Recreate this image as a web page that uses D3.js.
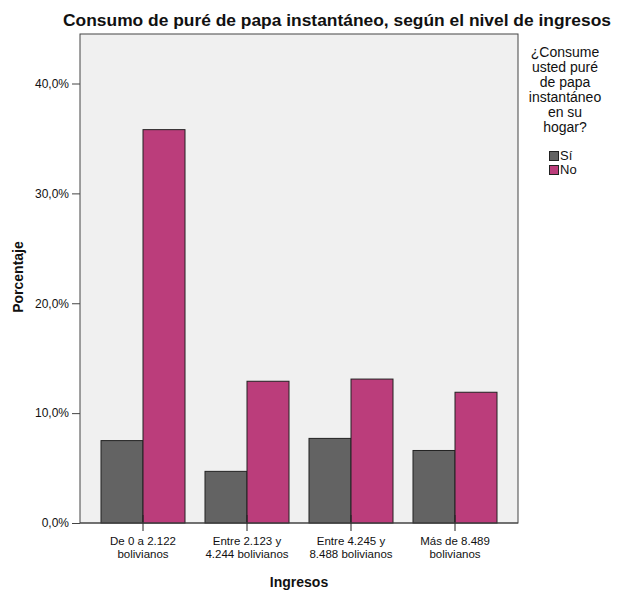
<!DOCTYPE html>
<html><head><meta charset="utf-8">
<script src="https://cdn.jsdelivr.net/npm/d3@7"></script>
<style>body{margin:0;background:#fff;} text{font-family:"Liberation Sans",Arial,sans-serif;}</style>
</head><body>
<svg id="c" width="629" height="596"></svg>
<script>
const categories = [["De 0 a 2.122","bolivianos"],["Entre 2.123 y","4.244 bolivianos"],["Entre 4.245 y","8.488 bolivianos"],["Más de 8.489","bolivianos"]];
const seriesNames = ["Sí","No"];
const siValues = [7.5, 4.7, 7.7, 6.6];
const noValues = [35.8, 12.9, 13.1, 11.9];
const yTicks = [0,10,20,30,40];
const legendTitle = ["¿Consume","usted puré","de papa","instantáneo","en su","hogar?"];
const colors = {"Sí":"#636363","No":"#bb3d7b"};

const svg = d3.select("#c");
const L=80, R=518, T=34, B=523;
svg.append("rect").attr("x",L).attr("y",T).attr("width",R-L).attr("height",B-T).attr("fill","#f0f0f0").attr("stroke","#444").attr("stroke-width",1);

const x = d3.scaleBand().domain(d3.range(categories.length)).range([91,507]).padding(0);
const xi = d3.scaleBand().domain(seriesNames).range([0,x.bandwidth()]).paddingInner(0).paddingOuter(0.238);
const y = d3.scaleLinear().domain([0,40]).range([B,83.5]);

const data = categories.map((c,i)=>({i, vals:[{k:"Sí",v:siValues[i]},{k:"No",v:noValues[i]}]}));
const g = svg.append("g");
data.forEach(d=>{
  d.vals.forEach(s=>{
    g.append("rect").attr("x",x(d.i)+xi(s.k)).attr("y",y(s.v)).attr("width",xi.bandwidth()).attr("height",B-y(s.v))
     .attr("fill",colors[s.k]).attr("stroke","#222").attr("stroke-width",1);
  });
});

// y axis
const yAxis = d3.axisLeft(y).tickValues(yTicks).tickSize(8).tickSizeOuter(0).tickPadding(3).tickFormat(d=>d.toFixed(1).replace(".",",")+"%");
const ya = svg.append("g").attr("transform",`translate(${L},0)`).call(yAxis);
ya.select(".domain").remove();
ya.selectAll(".tick line").attr("stroke","#444");
ya.selectAll(".tick text").attr("font-size",12).attr("fill","#111").attr("font-family","Liberation Sans, Arial");

// x axis
const xAxis = d3.axisBottom(x).tickSize(0).tickFormat("");
const xa = svg.append("g").attr("transform",`translate(0,${B})`).call(xAxis);
xa.select(".domain").remove();
categories.forEach((c,i)=>{
  const cx = x(i)+x.bandwidth()/2;
  svg.append("line").attr("x1",cx).attr("x2",cx).attr("y1",B-8).attr("y2",B+8).attr("stroke","#222");
  c.forEach((t,j)=>svg.append("text").attr("x",cx).attr("y",B+22+j*12.5).attr("text-anchor","middle").attr("font-size",11.5).attr("fill","#111").text(t));
});
svg.append("line").attr("x1",L).attr("x2",R).attr("y1",B).attr("y2",B).attr("stroke","#444");

// titles
svg.append("text").attr("x",337).attr("y",26).attr("text-anchor","middle").attr("font-size",17.4).attr("font-weight","bold").attr("fill","#111").text("Consumo de puré de papa instantáneo, según el nivel de ingresos");
svg.append("text").attr("x",299).attr("y",587).attr("text-anchor","middle").attr("font-size",14).attr("font-weight","bold").attr("font-family","DejaVu Sans").attr("fill","#111").text("Ingresos");
svg.append("text").attr("transform","translate(23,277) rotate(-90)").attr("text-anchor","middle").attr("font-size",14).attr("font-weight","bold").attr("font-family","DejaVu Sans").attr("fill","#111").text("Porcentaje");

// legend
legendTitle.forEach((t,j)=>svg.append("text").attr("x",565).attr("y",57+j*15).attr("text-anchor","middle").attr("font-size",14).attr("fill","#111").text(t));
seriesNames.forEach((s,j)=>{
  svg.append("rect").attr("x",549.5).attr("y",151.5+j*14).attr("width",9).attr("height",9).attr("fill",colors[s]).attr("stroke","#222");
  svg.append("text").attr("x",560).attr("y",160+j*14).attr("font-size",13).attr("fill","#111").text(s);
});
</script>
</body></html>
